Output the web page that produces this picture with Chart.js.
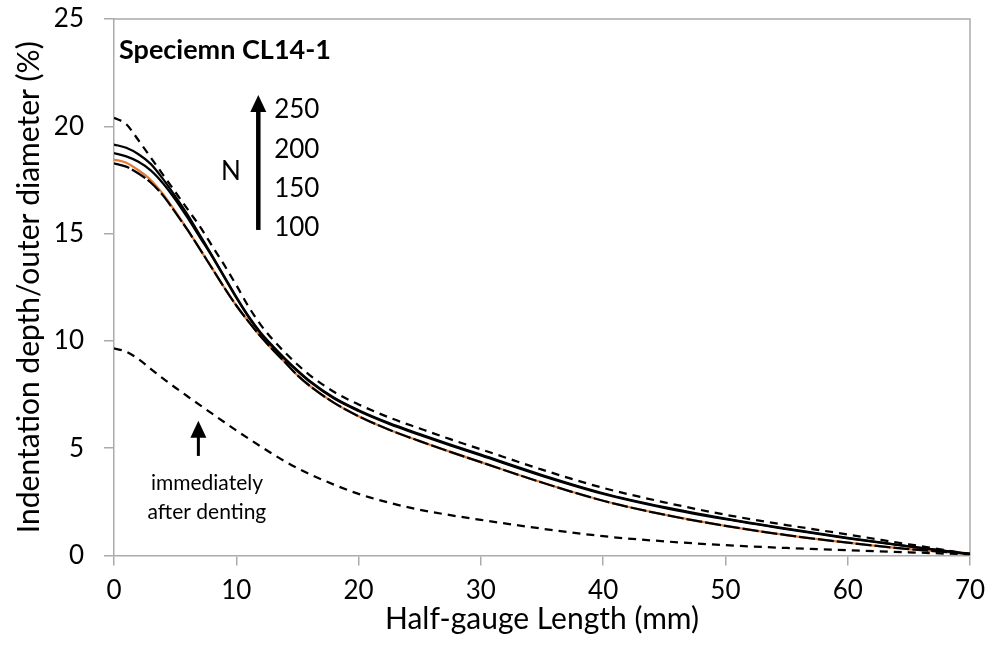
<!DOCTYPE html>
<html>
<head>
<meta charset="utf-8">
<script src="https://cdn.jsdelivr.net/npm/chart.js@4.4.0/dist/chart.umd.min.js"></script>
<style>
  html, body { margin: 0; padding: 0; background: #fff; }
  #wrap { width: 992px; height: 645px; }
</style>
</head>
<body>
<div id="wrap"><canvas id="grafico"></canvas></div>
<script>
// half-gauge length (mm), same stations for every curve
const comprimento = [0, 1, 2, 3, 4, 5, 6, 7, 8, 9, 10, 11, 12, 13, 14, 15, 16, 18, 20, 22.5, 25, 27.5, 30, 35, 40, 45, 50, 55, 60, 65, 70];

// indentation depth / outer diameter (%)
const n250 = [20.4, 20.1, 19.35, 18.55, 17.75, 16.95, 16.15, 15.35, 14.45, 13.55, 12.6, 11.6, 10.75, 10.05, 9.45, 8.9, 8.41, 7.62, 7.04, 6.43, 5.92, 5.42, 4.95, 4.0, 3.15, 2.48, 1.9, 1.42, 0.98, 0.52, 0.07];
const n200 = [19.15, 19.0, 18.7, 18.25, 17.55, 16.75, 15.9, 14.95, 14.0, 13.02, 12.05, 11.15, 10.38, 9.75, 9.17, 8.63, 8.14, 7.35, 6.77, 6.17, 5.66, 5.17, 4.7, 3.75, 2.9, 2.25, 1.72, 1.25, 0.82, 0.43, 0.07];
const n150 = [18.75, 18.6, 18.35, 17.95, 17.35, 16.6, 15.75, 14.85, 13.95, 12.98, 12.01, 11.11, 10.34, 9.71, 9.13, 8.59, 8.1, 7.31, 6.73, 6.13, 5.62, 5.13, 4.66, 3.71, 2.87, 2.22, 1.69, 1.23, 0.8, 0.42, 0.07];
const n100 = [18.27, 18.12, 17.8, 17.38, 16.78, 16.0, 15.18, 14.3, 13.4, 12.5, 11.65, 10.9, 10.2, 9.58, 9.0, 8.4, 7.91, 7.11, 6.49, 5.86, 5.33, 4.83, 4.35, 3.4, 2.55, 1.9, 1.38, 0.95, 0.6, 0.3, 0.07];
const n100b = [18.45, 18.3, 17.95, 17.5, 16.85, 16.05, 15.2, 14.3, 13.4, 12.5, 11.65, 10.9, 10.2, 9.58, 9.0, 8.4, 7.91, 7.11, 6.49, 5.86, 5.33, 4.83, 4.35, 3.4, 2.55, 1.9, 1.38, 0.95, 0.6, 0.3, 0.07];
const aposDenting = [9.65, 9.5, 9.15, 8.7, 8.25, 7.83, 7.42, 7.02, 6.62, 6.22, 5.83, 5.45, 5.08, 4.72, 4.38, 4.07, 3.79, 3.3, 2.87, 2.46, 2.13, 1.88, 1.66, 1.25, 0.9, 0.66, 0.48, 0.35, 0.25, 0.15, 0.05];

// axis ticks
const ticksX = [0, 10, 20, 30, 40, 50, 60, 70];
const ticksY = [0, 5, 10, 15, 20, 25];

// labels next to the N arrow
const rotulosN = ['250', '200', '150', '100'];
const valoresRotulosN = [20.76, 18.9, 17.08, 15.26];

const cinza = '#ababab';
const fonte = 'Lato, "Open Sans", sans-serif';

const pontos = serie => comprimento.map((x, i) => ({ x, y: serie[i] }));

// arrow pointing up
function seta(ctx, px, yBase, yPonta, largura, cabecaL, cabecaA) {
  ctx.lineWidth = largura;
  ctx.beginPath();
  ctx.moveTo(px, yBase);
  ctx.lineTo(px, yPonta + cabecaA - 1);
  ctx.stroke();
  ctx.beginPath();
  ctx.moveTo(px, yPonta);
  ctx.lineTo(px - cabecaL / 2, yPonta + cabecaA);
  ctx.lineTo(px + cabecaL / 2, yPonta + cabecaA);
  ctx.closePath();
  ctx.fill();
}

const moldura = {
  id: 'moldura',
  beforeDatasetsDraw(chart) {
    const { ctx, chartArea: a } = chart;
    ctx.save();
    ctx.strokeStyle = cinza;
    ctx.lineWidth = 1.5;
    ctx.beginPath();
    ctx.moveTo(a.left, a.top);
    ctx.lineTo(a.right, a.top);
    ctx.lineTo(a.right, a.bottom);
    ctx.stroke();
    ctx.restore();
  }
};

const anotacoes = {
  id: 'anotacoes',
  afterDatasetsDraw(chart) {
    const { ctx, scales: { x, y }, chartArea } = chart;
    ctx.save();
    ctx.fillStyle = '#000';
    ctx.strokeStyle = '#000';
    ctx.textBaseline = 'middle';

    // specimen name
    ctx.font = 'bold 27px ' + fonte;
    ctx.textAlign = 'left';
    ctx.fillText('Speciemn CL14-1', chartArea.left + 5, y.getPixelForValue(23.55));

    // N arrow with load cycles
    ctx.font = '26px ' + fonte;
    ctx.textAlign = 'center';
    ctx.fillText('N', x.getPixelForValue(9.57), y.getPixelForValue(17.87));
    seta(ctx, x.getPixelForValue(11.8), y.getPixelForValue(15.17), y.getPixelForValue(21.46), 4.5, 16, 17);
    ctx.textAlign = 'left';
    rotulosN.forEach((r, i) => {
      ctx.fillText(r, x.getPixelForValue(13.1), y.getPixelForValue(valoresRotulosN[i]));
    });

    // curve right after denting
    seta(ctx, x.getPixelForValue(6.9), y.getPixelForValue(4.64), y.getPixelForValue(6.28), 3, 16, 17);
    ctx.font = '21px ' + fonte;
    ctx.textAlign = 'center';
    ctx.fillText('immediately', x.getPixelForValue(7.6), y.getPixelForValue(3.38));
    ctx.fillText('after denting', x.getPixelForValue(7.6), y.getPixelForValue(2.03));
    ctx.restore();
  }
};

const tracejado = [8, 6];

new Chart(document.getElementById('grafico'), {
  type: 'line',
  data: {
    datasets: [
      { label: 'N = 100', data: pontos(n100), borderColor: '#000', borderDash: [16, 3] },
      { label: 'N = 250', data: pontos(n250), borderColor: '#000', borderDash: tracejado },
      { label: 'N = 200', data: pontos(n200), borderColor: '#000' },
      { label: 'N = 150', data: pontos(n150), borderColor: '#000' },
      { label: 'immediately after denting', data: pontos(aposDenting), borderColor: '#000', borderDash: tracejado },
      { label: 'N = 100 ', data: pontos(n100b), borderColor: '#e07b39' }
    ]
  },
  options: {
    responsive: true,
    maintainAspectRatio: false,
    devicePixelRatio: 1,
    animation: false,
    layout: { padding: { top: 19, right: 22, left: 0, bottom: 0 } },
    elements: {
      point: { radius: 0 },
      line: { borderWidth: 2.25, cubicInterpolationMode: 'monotone', fill: false }
    },
    plugins: {
      legend: { display: false },
      tooltip: { enabled: false }
    },
    scales: {
      x: {
        type: 'linear',
        min: 0,
        max: 70,
        afterBuildTicks: s => { s.ticks = ticksX.map(v => ({ value: v })); },
        afterFit: s => { s.height = 89.5; s.paddingLeft = 0; s.paddingRight = 0; },
        ticks: { color: '#000', font: { family: fonte, size: 26 }, padding: 10 },
        grid: { drawOnChartArea: false, tickLength: 10, color: cinza, lineWidth: 1.5 },
        border: { color: cinza, width: 1.5 },
        title: { display: true, text: 'Half-gauge Length (mm)', color: '#000', font: { family: fonte, size: 30 }, padding: { top: 0, bottom: 8 } }
      },
      y: {
        min: 0,
        max: 25,
        afterBuildTicks: s => { s.ticks = ticksY.map(v => ({ value: v })); },
        afterFit: s => { s.width = 114; s.paddingTop = 0; s.paddingBottom = 0; },
        ticks: { color: '#000', font: { family: fonte, size: 26 }, padding: 20 },
        grid: { drawOnChartArea: false, tickLength: 10, color: cinza, lineWidth: 1.5 },
        border: { color: cinza, width: 1.5 },
        title: { display: true, text: 'Indentation depth/outer diameter (%)', color: '#000', font: { family: fonte, size: 30 }, padding: { top: 11, bottom: 0 } }
      }
    }
  },
  plugins: [moldura, anotacoes]
});
</script>
</body>
</html>
